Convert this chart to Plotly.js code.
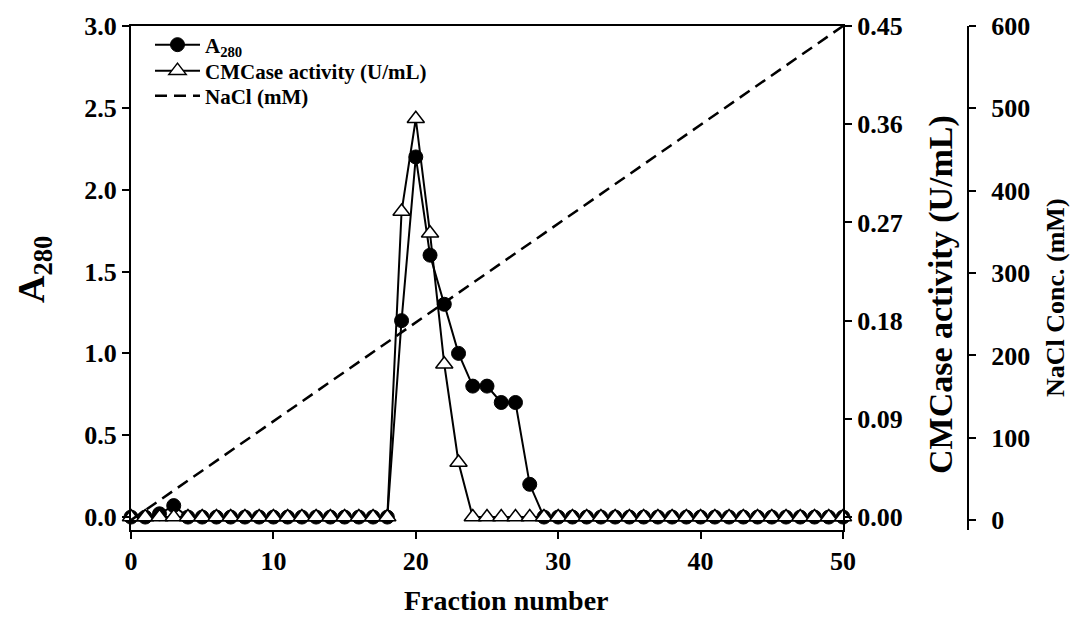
<!DOCTYPE html>
<html>
<head>
<meta charset="utf-8">
<script src="https://cdn.plot.ly/plotly-3.0.1.min.js"></script>
<style>
  html, body { margin: 0; padding: 0; background: #fff; }
  #chart { width: 1072px; height: 628px; }
</style>
</head>
<body>
<div id="chart"></div>
<script>
// ---- data ----
const fractions = [0,1,2,3,4,5,6,7,8,9,10,11,12,13,14,15,16,17,18,19,20,21,22,23,24,25,26,27,28,29,30,31,32,33,34,35,36,37,38,39,40,41,42,43,44,45,46,47,48,49,50];
const a280 = [0,0,0.02,0.07,0,0,0,0,0,0,0,0,0,0,0,0,0,0,0,1.2,2.2,1.6,1.3,1.0,0.8,0.8,0.7,0.7,0.2,0,0,0,0,0,0,0,0,0,0,0,0,0,0,0,0,0,0,0,0,0,0];
const cmcase = [0,0,0,0,0,0,0,0,0,0,0,0,0,0,0,0,0,0,0,0.28,0.365,0.26,0.14,0.05,0,0,0,0,0,0,0,0,0,0,0,0,0,0,0,0,0,0,0,0,0,0,0,0,0,0,0];
const naclFractions = [0, 50];
const naclValues = [0, 600];
const xTicks = [0,10,20,30,40,50];
const a280Ticks = [0,0.5,1.0,1.5,2.0,2.5,3.0];
const cmcaseTicks = [0,0.09,0.18,0.27,0.36,0.45];
const naclTicks = [0,100,200,300,400,500,600];

const FONT = 'Liberation Serif, Times New Roman, serif';
const tickFont = {family: FONT, size: 26, color: '#000', weight: 'bold'};
const legendFont = {family: FONT, size: 21, color: '#000', weight: 'bold'};

const traces = [
  {
    x: fractions, y: a280, name: 'A<sub>280</sub>', type: 'scatter', mode: 'lines+markers',
    yaxis: 'y', cliponaxis: false, legend: 'legend',
    line: {color: '#000', width: 2},
    marker: {symbol: 'circle', size: 14, color: '#000', line: {color: '#000', width: 1}}
  },
  {
    x: fractions, y: cmcase, name: 'CMCase activity (U/mL)', type: 'scatter', mode: 'lines+markers',
    yaxis: 'y2', cliponaxis: false, legend: 'legend2',
    line: {color: '#000', width: 2},
    marker: {symbol: 'triangle-up', size: 15, color: '#fff', line: {color: '#000', width: 1.5}}
  },
  {
    x: naclFractions, y: naclValues, name: 'NaCl (mM)', type: 'scatter', mode: 'lines',
    yaxis: 'y3', cliponaxis: false, legend: 'legend3',
    line: {color: '#000', width: 2.5, dash: '12px,7px'}
  }
];

const axisCommon = {
  showline: true, linecolor: '#000', linewidth: 2,
  ticks: 'outside', ticklen: 7, tickwidth: 2, tickcolor: '#000',
  showgrid: false, zeroline: false, tickfont: tickFont
};

function legendAt(yPaper) {
  return {
    x: 0.0227, y: yPaper, xanchor: 'left', yanchor: 'middle',
    bgcolor: 'rgba(0,0,0,0)', borderwidth: 0, itemwidth: 45,
    font: legendFont
  };
}

// pixel -> paper helpers for title placement (plot area 131..968 x, 26..530 y)
const px = v => (v - 131) / 837;
const py = v => (530 - v) / 504;

const layout = {
  width: 1072, height: 628,
  margin: {l: 131, r: 104, t: 26, b: 98},
  paper_bgcolor: '#fff', plot_bgcolor: '#fff',
  showlegend: true,
  legend: legendAt(py(45)),
  legend2: legendAt(py(71)),
  legend3: legendAt(py(96)),
  xaxis: Object.assign({}, axisCommon, {
    domain: [0, 712/837],
    range: [0, 50],
    tickvals: xTicks,
    mirror: true
  }),
  yaxis: Object.assign({}, axisCommon, {
    range: [-0.079, 3],
    tickvals: a280Ticks, tickformat: '.1f'
  }),
  yaxis2: Object.assign({}, axisCommon, {
    overlaying: 'y', side: 'right', anchor: 'x',
    range: [-0.0119, 0.45],
    tickvals: cmcaseTicks, tickformat: '.2f'
  }),
  yaxis3: Object.assign({}, axisCommon, {
    overlaying: 'y', side: 'right', anchor: 'free', position: 1,
    range: [-12, 600],
    tickvals: naclTicks, ticklabelstandoff: 10
  }),
  annotations: [
    {
      text: 'Fraction number', xref: 'paper', yref: 'paper',
      x: px(506), y: py(600), xanchor: 'center', yanchor: 'middle',
      showarrow: false, font: {family: FONT, size: 28, color: '#000', weight: 'bold'}
    },
    {
      text: 'A<sub>280</sub>', xref: 'paper', yref: 'paper', textangle: -90,
      x: px(34), y: py(270), xanchor: 'center', yanchor: 'middle',
      showarrow: false, font: {family: FONT, size: 38, color: '#000', weight: 'bold'}
    },
    {
      text: 'CMCase activity (U/mL)', xref: 'paper', yref: 'paper', textangle: -90,
      x: px(941), y: py(295), xanchor: 'center', yanchor: 'middle',
      showarrow: false, font: {family: FONT, size: 34, color: '#000', weight: 'bold'}
    },
    {
      text: 'NaCl Conc. (mM)', xref: 'paper', yref: 'paper', textangle: -90,
      x: px(1055), y: py(298), xanchor: 'center', yanchor: 'middle',
      showarrow: false, font: {family: FONT, size: 26, color: '#000', weight: 'bold'}
    }
  ]
};

Plotly.newPlot('chart', traces, layout, {displayModeBar: false, staticPlot: true});
</script>
</body>
</html>
